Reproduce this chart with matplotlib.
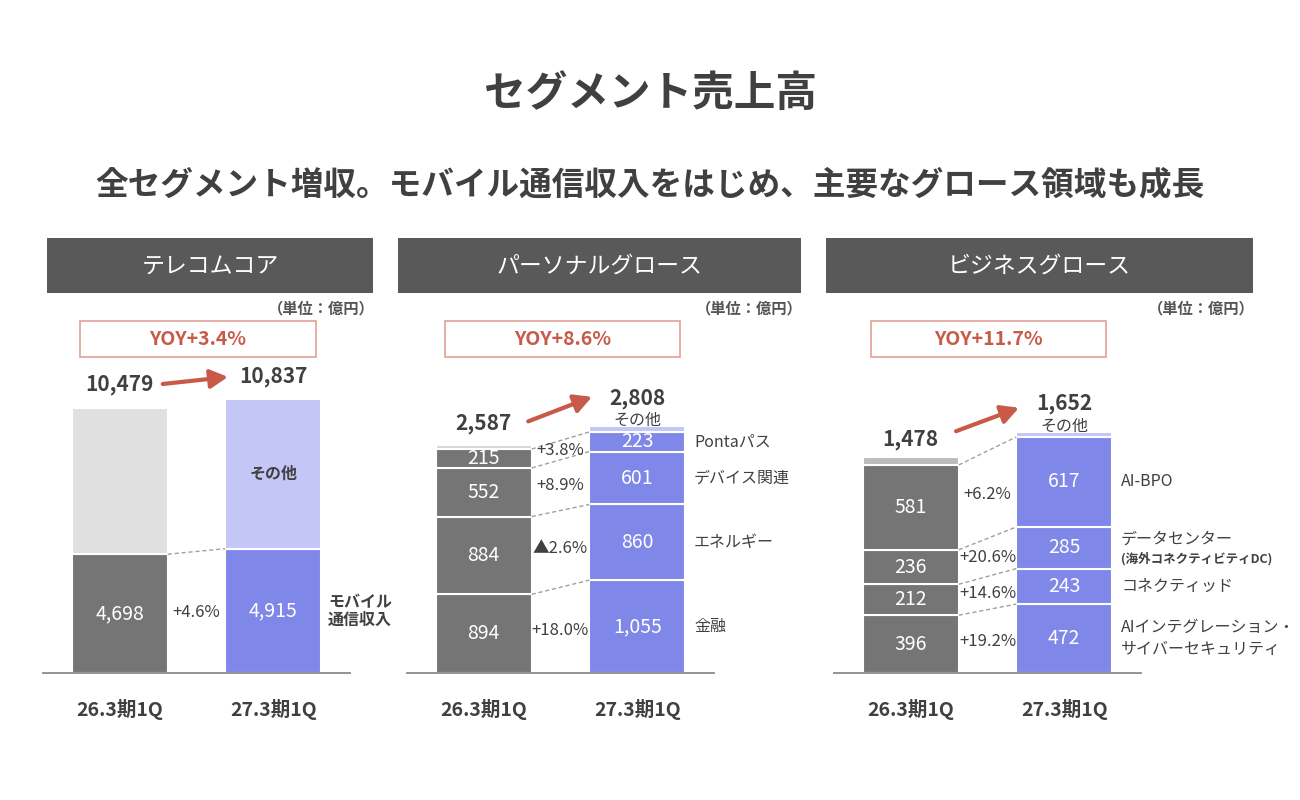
import numpy as np
import matplotlib
matplotlib.use('Agg')
import matplotlib.pyplot as plt
from matplotlib.patches import Rectangle
from matplotlib.transforms import offset_copy

plt.rcParams['font.family'] = ['Noto Sans CJK JP', 'DejaVu Sans']

# ---- data ----
periods = ['26.3期1Q', '27.3期1Q']
panel_titles = ['テレコムコア', 'パーソナルグロース', 'ビジネスグロース']
yoy_labels = ['YOY+3.4%', 'YOY+8.6%', 'YOY+11.7%']

# telecom core
telecom_names = ['モバイル\n通信収入']
telecom_prev = [4698]
telecom_curr = [4915]
telecom_growth = ['+4.6%']
telecom_totals = [10479, 10837]

# personal growth (bottom -> top)
personal_names = ['金融', 'エネルギー', 'デバイス関連', 'Pontaパス']
personal_prev = [894, 884, 552, 215]
personal_curr = [1055, 860, 601, 223]
personal_growth = ['+18.0%', '▲2.6%', '+8.9%', '+3.8%']
personal_totals = [2587, 2808]

# business growth (bottom -> top)
business_names = ['AIインテグレーション・\nサイバーセキュリティ', 'コネクティッド', 'データセンター', 'AI-BPO']
business_sub = ['', '', '(海外コネクティビティDC)', '']
business_prev = [396, 212, 236, 581]
business_curr = [472, 243, 285, 617]
business_growth = ['+19.2%', '+14.6%', '+20.6%', '+6.2%']
business_totals = [1478, 1652]

DARK = '#757575'
BLUE = '#7f87e8'
LBLUE = '#c3c6f6'
TXT = '#404040'
RED = '#c75a48'

W, H = 1300, 800
fig = plt.figure(figsize=(13, 8), dpi=100)
fig.patch.set_facecolor('white')


def px(x, y):
    return x / W, 1 - y / H


fig.text(*px(651, 94), 'セグメント売上高', ha='center', va='center',
         fontsize=30, fontweight='bold', color=TXT)
fig.text(*px(650, 185), '全セグメント増収。モバイル通信収入をはじめ、主要なグロース領域も成長',
         ha='center', va='center', fontsize=23.5, fontweight='bold', color=TXT)

# layout of the three panels (pixels)
headers = [(47, 373), (398, 801), (826, 1253)]
yoy_boxes = [(80, 316), (445, 680), (871, 1106)]
ax_left = [43, 407, 834]
ylims = [300 / 0.02529, 300 / 0.0880, 300 / 0.1460]
prev_other_colors = ['#e0e0e0', '#d6d6d6', '#bcbcbc']
top_offsets = [(23, 22), (22, 27), (18, 28)]
arrow_offsets = [(24, 22), (24, 29), (26, 24)]
arrow_x = [(0.28, 0.705), (0.29, 0.705), (0.295, 0.705)]

panels = [
    (telecom_names, [''], telecom_prev, telecom_curr, telecom_growth, telecom_totals),
    (personal_names, ['', '', '', ''], personal_prev, personal_curr, personal_growth, personal_totals),
    (business_names, business_sub, business_prev, business_curr, business_growth, business_totals),
]

bw = 0.625
for i, (names, subs, prev, curr, growth, totals) in enumerate(panels):
    # header
    x0, x1 = headers[i]
    fig.patches.append(Rectangle(px(x0, 293), (x1 - x0) / W, 55 / H, transform=fig.transFigure,
                                 facecolor='#595959', edgecolor='none'))
    fig.text(*px((x0 + x1) / 2, 266), panel_titles[i], ha='center', va='center',
             fontsize=16.5, color='white')
    fig.text(*px(x1 + 2, 308), '（単位：億円）', ha='right', va='center', fontsize=11,
             fontweight='bold', color='#555555')
    b0, b1 = yoy_boxes[i]
    fig.patches.append(Rectangle(px(b0, 357), (b1 - b0) / W, 36 / H, transform=fig.transFigure,
                                 facecolor='white', edgecolor='#e2a096', lw=1.2))
    fig.text(*px((b0 + b1) / 2, 339), yoy_labels[i], ha='center', va='center',
             fontsize=14, fontweight='bold', color=RED)

    ax = fig.add_axes([ax_left[i] / W, 127 / H, 307 / W, 300 / H])
    ax.set_xlim(-0.5, 1.5)
    ax.set_ylim(0, ylims[i])
    for s in ax.spines.values():
        s.set_visible(False)
    ax.set_yticks([])
    ax.set_xticks([0, 1])
    ax.set_xticklabels(periods, fontsize=14, fontweight='bold', color=TXT)
    ax.tick_params(axis='x', length=0, pad=19)
    ax.patch.set_alpha(0)

    prev_cum = np.concatenate([[0], np.cumsum(prev)])
    curr_cum = np.concatenate([[0], np.cumsum(curr)])
    for k in range(len(prev)):
        ax.bar(0, prev[k], bottom=prev_cum[k], width=bw, color=DARK, edgecolor='white', lw=1.5)
        ax.bar(1, curr[k], bottom=curr_cum[k], width=bw, color=BLUE, edgecolor='white', lw=1.5)
        ax.text(0, prev_cum[k] + prev[k] / 2, f'{prev[k]:,}', ha='center', va='center',
                fontsize=14, color='white')
        ax.text(1, curr_cum[k] + curr[k] / 2, f'{curr[k]:,}', ha='center', va='center',
                fontsize=14, color='white')
        # connector
        ax.plot([bw / 2, 1 - bw / 2], [prev_cum[k + 1], curr_cum[k + 1]], color='#a0a0a0',
                lw=1, ls=(0, (3, 2)))
        mid = ((prev_cum[k] + prev[k] / 2) + (curr_cum[k] + curr[k] / 2)) / 2
        ax.text(0.5, mid, growth[k], ha='center', va='center', fontsize=12, color=TXT)
        # segment names
        if i == 0:
            ax.text(1.565, curr_cum[k] + curr[k] / 2, names[k], ha='center', va='center',
                    fontsize=11.5, fontweight='bold', color=TXT, linespacing=1.1, clip_on=False)
        elif subs[k]:
            yc = curr_cum[k] + curr[k] / 2
            ax.annotate(names[k], (1.37, yc), xytext=(0, 6), textcoords='offset points',
                        ha='left', va='center', fontsize=11.5, color=TXT, annotation_clip=False)
            ax.annotate(subs[k], (1.37, yc), xytext=(0, -8), textcoords='offset points',
                        ha='left', va='center', fontsize=9, fontweight='bold', color=TXT,
                        annotation_clip=False)
        else:
            ax.text(1.37, curr_cum[k] + curr[k] / 2, names[k], ha='left', va='center',
                    fontsize=11.5, color=TXT, linespacing=1.35, clip_on=False)

    # other segments
    other_prev = totals[0] - prev_cum[-1]
    other_curr = totals[1] - curr_cum[-1]
    ax.bar(0, other_prev, bottom=prev_cum[-1], width=bw, color=prev_other_colors[i],
           edgecolor='white', lw=1.5)
    ax.bar(1, other_curr, bottom=curr_cum[-1], width=bw, color=LBLUE, edgecolor='white', lw=1.5)
    if i == 0:
        ax.text(1, curr_cum[-1] + other_curr / 2, 'その他', ha='center', va='center',
                fontsize=11.5, fontweight='bold', color=TXT)
    else:
        ax.annotate('その他', (1, totals[1]), xytext=(0, 4), textcoords='offset points',
                    ha='center', va='center', fontsize=11.5, color=TXT,
                    annotation_clip=False)

    ax.axhline(0, color='#8a8a8a', lw=1.3, clip_on=False)

    # totals
    o0, o1 = top_offsets[i]
    ax.text(0, totals[0], f'{totals[0]:,}', ha='center', va='center', fontsize=15,
            fontweight='bold', color=TXT, clip_on=False,
            transform=offset_copy(ax.transData, fig=fig, x=0, y=o0, units='dots'))
    ax.text(1, totals[1], f'{totals[1]:,}', ha='center', va='center', fontsize=15,
            fontweight='bold', color=TXT, clip_on=False,
            transform=offset_copy(ax.transData, fig=fig, x=0, y=o1, units='dots'))

    # growth arrow
    a0, a1 = arrow_offsets[i]
    xs, xe = arrow_x[i]
    ax.annotate('', xy=(xe, totals[1]), xytext=(xs, totals[0]),
                xycoords=offset_copy(ax.transData, fig=fig, x=0, y=a1, units='dots'),
                textcoords=offset_copy(ax.transData, fig=fig, x=0, y=a0, units='dots'),
                arrowprops=dict(arrowstyle='-|>,head_length=0.75,head_width=0.4', color=RED,
                                lw=3, shrinkA=0, shrinkB=0, mutation_scale=14),
                annotation_clip=False)

fig.savefig('out.png', dpi=100, facecolor='white')
